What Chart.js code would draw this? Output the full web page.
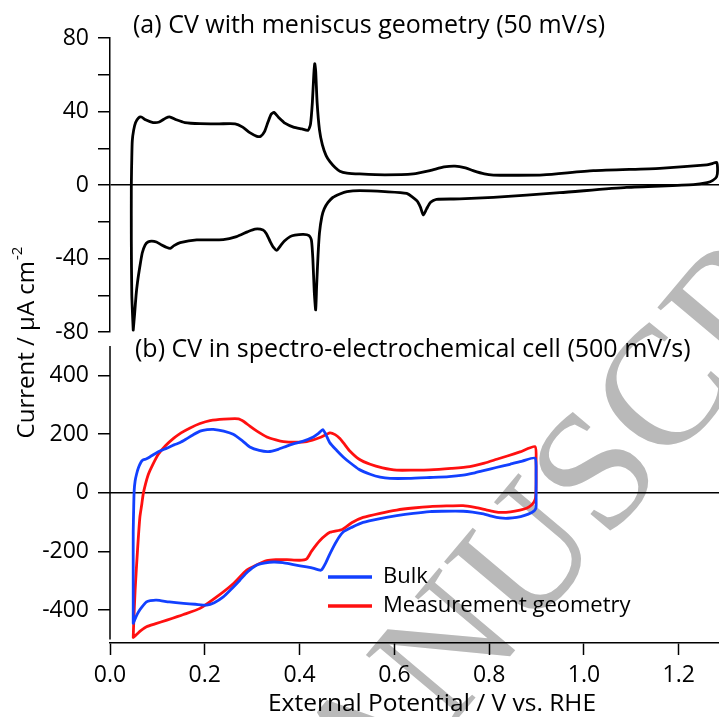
<!DOCTYPE html>
<html><head><meta charset="utf-8">
<script src="https://cdn.jsdelivr.net/npm/chart.js@4.4.1/dist/chart.umd.min.js"></script>
<style>
html,body{margin:0;padding:0;background:#fff;}
#wrap{position:relative;width:719px;height:717px;overflow:hidden;}
#wrap canvas{position:absolute;left:0;top:0;}
</style></head><body>
<div id="wrap"><canvas id="bot" width="719" height="717"></canvas><canvas id="top" width="719" height="717"></canvas></div>
<script>
// ---------- data ----------
const titleA = "(a) CV with meniscus geometry (50 mV/s)";
const titleB = "(b) CV in spectro-electrochemical cell (500 mV/s)";
const xTitle = "External Potential / V vs. RHE";
const yTitleMain = "Current / \u00B5A cm";
const yTitleSup = "-2";
const seriesNames = ["Bulk", "Measurement geometry"];
const watermark = "MANUSCRIPT";

const xTicks = [0, 0.2, 0.4, 0.6, 0.8, 1.0, 1.2];
const topYTicks = [-80, -60, -40, -20, 0, 20, 40, 60, 80];
const botYTicks = [-400, -200, 0, 200, 400];

// (a) meniscus CV, 50 mV/s
const topE = [0.049,0.046,0.045,0.045,0.046,0.047,0.050,0.054,0.060,0.066,0.075,0.091,0.104,0.118,0.127,0.140,0.158,0.190,0.230,0.264,0.280,0.295,0.310,0.318,0.326,0.333,0.340,0.346,0.355,0.370,0.387,0.405,0.418,0.423,0.427,0.430,0.432,0.434,0.437,0.442,0.448,0.456,0.464,0.475,0.485,0.500,0.527,0.580,0.640,0.675,0.705,0.728,0.750,0.766,0.790,0.809,0.860,0.914,1.020,1.160,1.259,1.272,1.280,
  1.282,1.280,1.272,1.260,1.231,1.090,0.949,0.809,0.738,0.689,0.676,0.668,0.661,0.655,0.647,0.626,0.580,0.527,0.500,0.485,0.470,0.460,0.452,0.447,0.442,0.439,0.436,0.434,0.431,0.428,0.425,0.420,0.408,0.390,0.380,0.368,0.360,0.352,0.345,0.338,0.330,0.323,0.306,0.290,0.267,0.239,0.183,0.148,0.135,0.127,0.118,0.109,0.098,0.088,0.080,0.074,0.068,0.063,0.058,0.055,0.052,0.049];
const topI = [-79,-60,-30,0,15,24,30,34,36.5,37,35.5,34,34.3,36.5,37,35.5,34,33.4,33.3,33.3,31.5,28.5,26.5,26.5,29,34,38.5,39.5,37,33.5,31.5,30.5,29.8,33,45,60,66,62,45,30,22,16,12.7,9.5,7.5,6.5,6.0,5.5,6.0,7.8,9.8,10.3,9.3,7.8,6.0,5.4,5.3,5.5,7.8,9.1,10.9,11.8,12.3,
  8,4.5,2.5,1.3,0.2,-1.3,-4.2,-6.7,-7.6,-7.8,-9.5,-13,-16.3,-12,-8.5,-4.6,-3.6,-3.1,-3.6,-4.9,-6.8,-9.5,-13,-17.2,-26,-38,-55,-68,-58,-40,-30,-27.5,-26.9,-27.3,-28.1,-30.5,-33,-35.5,-34,-30.8,-26.5,-24.5,-24.0,-25.5,-28.1,-29.7,-29.9,-31.4,-33,-34.5,-33.8,-32.7,-31,-30.5,-31,-32.7,-37,-44.4,-53,-60,-70,-79];

// (b) spectro-electrochemical cell, 500 mV/s
const bulkE = [0.049,0.049,0.049,0.050,0.051,0.053,0.056,0.060,0.065,0.069,0.076,0.084,0.095,0.105,0.120,0.135,0.148,0.160,0.175,0.190,0.205,0.218,0.240,0.260,0.280,0.295,0.315,0.334,0.355,0.373,0.390,0.408,0.429,0.440,0.449,0.455,0.464,0.478,0.492,0.506,0.525,0.549,0.570,0.591,0.630,0.675,0.715,0.745,0.770,0.788,0.815,0.844,0.870,0.897,
  0.899,0.899,0.899,0.896,0.890,0.875,0.858,0.840,0.823,0.805,0.788,0.765,0.745,0.700,0.675,0.640,0.605,0.570,0.534,0.510,0.492,0.478,0.464,0.455,0.447,0.443,0.430,0.415,0.387,0.365,0.345,0.325,0.309,0.290,0.274,0.255,0.239,0.220,0.204,0.180,0.155,0.125,0.098,0.085,0.077,0.068,0.060,0.055,0.049];
const bulkI = [-445,-300,-134,-50,7,40,63,85,103,111,115,122,133,142,152,163,171,182,197,210,215,216,210,199,176,156,144,140,148,159,168,176,190,202,215,200,170,145,122,103,80,63,53,49,49,52,55,60,68,75,86,97,108,118,
  60,0,-50,-60,-67,-77,-84,-87,-86,-80,-72,-66,-63,-63,-64,-70,-78,-88,-101,-118,-134,-165,-208,-240,-262,-264,-258,-253,-245,-238,-236,-240,-247,-270,-298,-330,-355,-375,-383,-380,-377,-372,-366,-368,-372,-388,-406,-422,-445];

const measE = [0.049,0.050,0.053,0.058,0.063,0.067,0.070,0.075,0.081,0.090,0.102,0.117,0.134,0.150,0.169,0.190,0.211,0.240,0.271,0.283,0.295,0.310,0.331,0.350,0.366,0.390,0.415,0.443,0.464,0.475,0.485,0.495,0.506,0.525,0.549,0.575,0.605,0.640,0.675,0.720,0.759,0.790,0.816,0.840,0.865,0.897,
  0.899,0.899,0.898,0.895,0.890,0.880,0.865,0.845,0.826,0.810,0.795,0.770,0.745,0.710,0.675,0.640,0.605,0.570,0.534,0.510,0.490,0.464,0.443,0.425,0.415,0.400,0.373,0.350,0.331,0.310,0.288,0.260,0.225,0.190,0.155,0.120,0.095,0.077,0.065,0.060,0.055,0.049];
const measI = [-493,-445,-332,-197,-84,-40,-5,30,63,95,131,160,185,204,221,236,246,251,252,242,227,210,190,180,174,172,174,188,204,198,185,165,142,115,97,85,77,77,78,83,89,101,114,126,139,157,
  100,20,-16,-30,-41,-52,-59,-65,-67,-64,-59,-50,-44,-45,-47,-52,-59,-70,-84,-102,-125,-135,-163,-200,-225,-230,-228,-228,-231,-245,-264,-310,-355,-394,-415,-434,-447,-457,-470,-477,-485,-493];

// ---------- styling ----------
const FONT = "'Open Sans','Noto Sans','DejaVu Sans',sans-serif";
Chart.defaults.font.family = FONT;
Chart.defaults.color = '#000';
const BLUE = '#1240ff', RED = '#ff1010';
const pts = (xs, ys) => xs.map((x, i) => ({x, y: ys[i]}));
const zeroLine = ctx => (ctx.tick && ctx.tick.value === 0) ? '#000' : 'rgba(0,0,0,0)';

const baseOptions = {
  responsive: false, animation: false, devicePixelRatio: 1,
  plugins: {legend: {display: false}, tooltip: {enabled: false}},
  elements: {point: {radius: 0}, line: {tension: 0.2, borderWidth: 2.8, borderCapStyle: 'round', borderJoinStyle: 'round'}},
};

// ---------- top panel ----------
const topPlugin = {
  id: 'topDecor',
  afterDraw(chart) {
    const c = chart.ctx;
    c.save();
    c.font = '25px ' + FONT; c.fillStyle = '#000';
    c.textBaseline = 'middle'; c.textAlign = 'left';
    c.fillText(titleA, 133, 26);
    c.restore();
  }
};
new Chart(document.getElementById('top'), {
  type: 'line',
  data: {datasets: [{data: pts(topE, topI), borderColor: '#000', fill: false}]},
  options: Object.assign({}, baseOptions, {
    layout: {padding: {left: 0, right: 0, top: 38, bottom: 385}},
    scales: {
      x: {type: 'linear', min: 0, max: 1.285, display: false},
      y: {
        type: 'linear', min: -80, max: 80,
        afterBuildTicks: s => { s.ticks = topYTicks.map(v => ({value: v})); },
        ticks: {callback: v => (v % 40 === 0 ? String(v) : ''), font: {size: 23}, color: '#000', padding: 9, autoSkip: false},
        grid: {drawOnChartArea: true, color: zeroLine, lineWidth: 1.5, tickColor: '#000', tickLength: 12, tickWidth: 1.5},
        border: {display: true, color: '#000', width: 1.5},
        afterFit: s => { s.width = 110; }
      }
    }
  }),
  plugins: [topPlugin]
});

// ---------- bottom panel ----------
const botPlugin = {
  id: 'botDecor',
  beforeDraw(chart) {
    const c = chart.ctx;
    c.save();
    c.fillStyle = '#b9b9b9';
    c.font = '170px "Liberation Serif","DejaVu Serif",serif';
    c.translate(272, 940);
    c.rotate(-50 * Math.PI / 180);
    c.textAlign = 'left'; c.textBaseline = 'alphabetic';
    c.fillText(watermark, 0, 0);
    c.restore();
  },
  afterDraw(chart) {
    const c = chart.ctx;
    const ys = chart.scales.y;
    const xl = chart.chartArea.left;
    c.save();
    // y axis line from -500 to 500
    c.strokeStyle = '#000'; c.lineWidth = 1.5;
    c.beginPath();
    c.moveTo(xl, ys.getPixelForValue(500));
    c.lineTo(xl, ys.getPixelForValue(-500));
    c.stroke();
    // legend
    const items = [[seriesNames[0], chart.data.datasets[0].borderColor, 577], [seriesNames[1], chart.data.datasets[1].borderColor, 606]];
    c.font = '22px ' + FONT; c.textBaseline = 'middle'; c.textAlign = 'left';
    items.forEach(([t, col, y]) => {
      c.strokeStyle = col; c.lineWidth = 3.5;
      c.beginPath(); c.moveTo(328, y); c.lineTo(372, y); c.stroke();
      c.fillStyle = '#000'; c.fillText(t, 383, y);
    });
    // panel title
    c.font = '25px ' + FONT;
    c.fillText(titleB, 135, 350);
    // x axis title
    c.font = '24.5px ' + FONT; c.textAlign = 'center';
    c.fillText(xTitle, 432, 704);
    // y title (shared)
    c.textAlign = 'left';
    c.translate(27, 343);
    c.rotate(-Math.PI / 2);
    c.font = '24px ' + FONT;
    const w1 = c.measureText(yTitleMain).width;
    c.font = '15px ' + FONT;
    const w2 = c.measureText(yTitleSup).width;
    const x0 = -(w1 + w2) / 2;
    c.font = '24px ' + FONT;
    c.fillText(yTitleMain, x0, 0);
    c.font = '15px ' + FONT;
    c.fillText(yTitleSup, x0 + w1 + 1, -9);
    c.restore();
  }
};
new Chart(document.getElementById('bot'), {
  type: 'line',
  data: {datasets: [
    {data: pts(bulkE, bulkI), borderColor: BLUE, fill: false},
    {data: pts(measE, measI), borderColor: RED, fill: false}
  ]},
  options: Object.assign({}, baseOptions, {
    layout: {padding: {left: 0, right: 0, top: 346, bottom: 0}},
    scales: {
      x: {
        type: 'linear', min: 0, max: 1.285,
        afterBuildTicks: s => { s.ticks = xTicks.map(v => ({value: v})); },
        ticks: {callback: v => Number(v).toFixed(1), font: {size: 23}, color: '#000', padding: 7, maxRotation: 0, autoSkip: false},
        grid: {drawOnChartArea: false, drawTicks: true, tickLength: 12, tickColor: '#000', tickWidth: 1.5},
        border: {display: true, color: '#000', width: 1.5},
        title: {display: false},
        afterFit: s => { s.height = 74; s.paddingLeft = 0; s.paddingRight = 0; }
      },
      y: {
        type: 'linear', min: -512, max: 500,
        afterBuildTicks: s => { s.ticks = botYTicks.map(v => ({value: v})); },
        ticks: {callback: v => String(v), font: {size: 23}, color: '#000', padding: 9, autoSkip: false},
        grid: {drawOnChartArea: true, color: zeroLine, lineWidth: 1.5, tickColor: '#000', tickLength: 12, tickWidth: 1.5},
        border: {display: false},
        afterFit: s => { s.width = 110; }
      }
    }
  }),
  plugins: [botPlugin]
});
</script>
</body></html>
